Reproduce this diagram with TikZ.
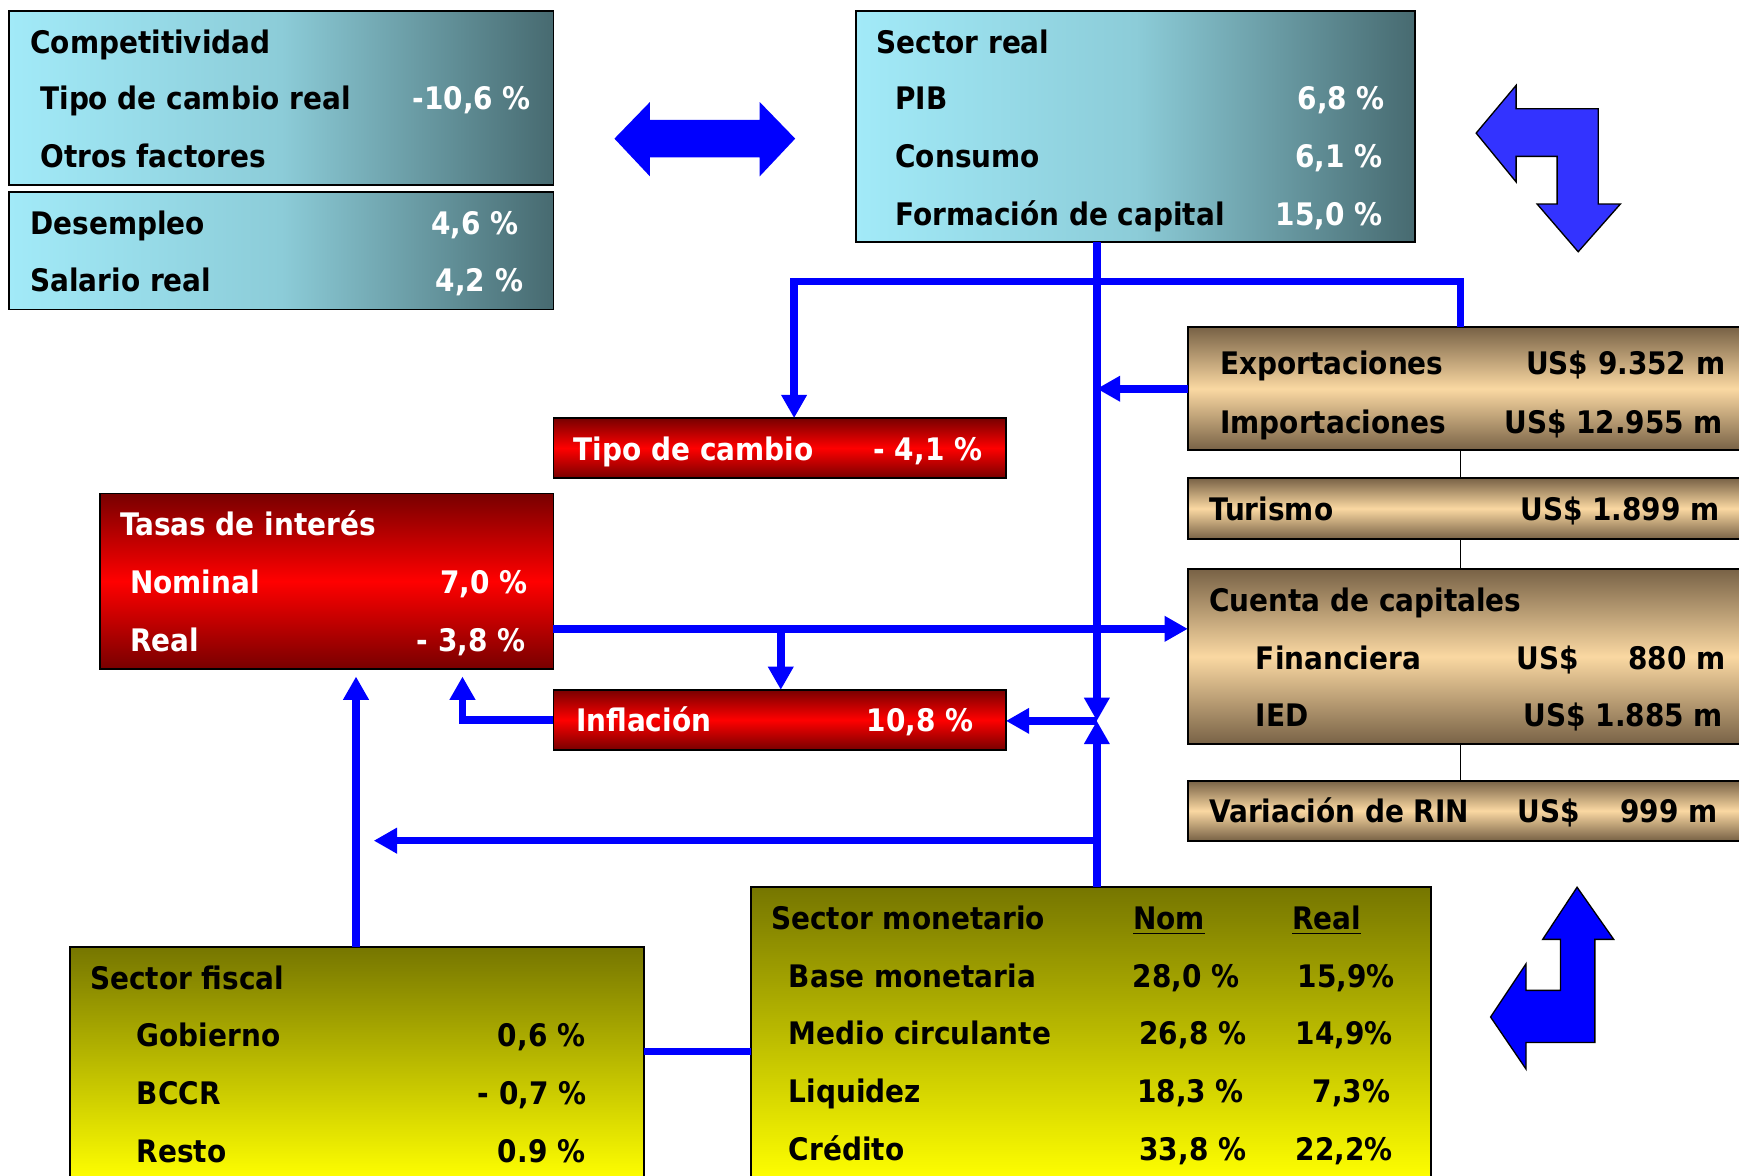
\documentclass[tikz,border=0pt]{standalone}
\usepackage{fontspec}
\setmainfont{DejaVu Sans Condensed}
\usetikzlibrary{arrows.meta}
\definecolor{cyanL}{HTML}{A2EAF8}
\definecolor{cyanM}{HTML}{8CCCD8}
\definecolor{slateD}{HTML}{476A70}
\definecolor{redD}{HTML}{780000}
\definecolor{redM}{HTML}{FF0000}
\definecolor{tanD}{HTML}{786246}
\definecolor{tanL}{HTML}{FAD8A2}
\definecolor{oliveD}{HTML}{767600}
\definecolor{yelL}{HTML}{FFFF00}
\definecolor{lineblue}{HTML}{0000FF}
\definecolor{arrblue}{HTML}{3333FF}
\newcounter{tn}
\newcommand\mkbox[6]{\node[box,#2,minimum width={(#5-#3)*0.5pt},minimum height={(#6-#4)*0.5pt}] (#1) at (#3,#4) {};}
\newcommand\lw[4][black]{\stepcounter{tn}\node[txt,anchor=base west,text=#1] (t\arabic{tn}) at (#2,#3) {#4};}
\newcommand\re[4][black]{\stepcounter{tn}\node[txt,anchor=base east,text=#1] (t\arabic{tn}) at (#2,#3) {#4};}
\newcommand\ce[4][black]{\stepcounter{tn}\node[txt,anchor=base,text=#1] (t\arabic{tn}) at (#2,#3) {#4};}
\begin{document}
\begin{tikzpicture}[x=0.5pt,y={(0pt,-0.5pt)},
  box/.style={draw=black,line width=0.8pt,inner sep=0pt,outer sep=0pt,anchor=north west},
  cyanbox/.style={left color=cyanL,right color=slateD,middle color=cyanM},
  redbox/.style={top color=redD,bottom color=redD,middle color=redM},
  tanbox/.style={top color=tanD,bottom color=tanD,middle color=tanL},
  olivebox/.style={top color=oliveD,bottom color=yelL},
  txt/.style={inner sep=0pt,font=\fontsize{14}{16}\selectfont\bfseries},
  conn/.style={draw=lineblue,line width=3.4pt},
  tip/.style={-{Triangle[width=11pt,length=10.5pt]}},
  thinl/.style={draw=black,line width=0.6pt},
  bigarrow/.style={fill=#1,draw=black,line width=0.6pt,line join=miter}]
\clip (0,0) rectangle (1568,1060);
\fill[white] (0,0) rectangle (1568,1060);

% boxes
\mkbox{comp}{cyanbox}{8}{10}{499}{167}
\mkbox{des}{cyanbox}{8}{173}{499}{279}
\mkbox{sr}{cyanbox}{772}{10}{1276}{218}
\mkbox{tc}{redbox}{499}{377}{907}{431}
\mkbox{ta}{redbox}{90}{445}{499}{603}
\mkbox{inf}{redbox}{499}{622}{907}{676}
\mkbox{ex}{tanbox}{1071}{295}{1600}{406}
\mkbox{tu}{tanbox}{1071}{431}{1600}{486}
\mkbox{cc}{tanbox}{1071}{513}{1600}{671}
\mkbox{rin}{tanbox}{1071}{704}{1600}{758}
\mkbox{mon}{olivebox}{677}{800}{1290}{1064}
\mkbox{fis}{olivebox}{63}{854}{581}{1064}

% connectors
\coordinate (J) at (989,650);
\coordinate (H1) at (716,254);
\coordinate (H2) at (1317,254);
\coordinate (R1) at (499,567);
\coordinate (R2) at (704,567);
\coordinate (L1) at (417,610);
\coordinate (B1) at (337,758);
\coordinate (F1) at (321,610);
\coordinate (M1) at (581,948);
\draw[conn,tip] (J |- sr.south) -- (J);
\draw[conn,tip] (H2 |- ex.north) -- (H2) -- (H1) -- (H1 |- tc.north);
\draw[conn,tip] (ex.west) -- (ex.west -| J);
\draw[conn,tip] (R1) -- (R1 -| cc.west);
\draw[conn,tip] (R2) -- (R2 |- inf.north);
\draw[conn,tip] (inf.west) -| (L1);
\draw[conn,tip] (J) -- (J -| inf.east);
\draw[conn,tip] (J |- mon.north) -- (J);
\draw[conn,tip] (J |- B1) -- (B1);
\draw[conn,tip] (F1 |- fis.north) -- (F1);
\draw[conn] (M1) -- (M1 -| mon.west);
\draw[thinl] (H2 |- ex.south) -- (H2 |- tu.north);
\draw[thinl] (H2 |- tu.south) -- (H2 |- cc.north);
\draw[thinl] (H2 |- cc.south) -- (H2 |- rin.north);

% big arrows
\fill[lineblue] (554,125) -- (586,92) -- (586,108) -- (685,108) -- (685,92) -- (717,125)
  -- (685,159) -- (685,142) -- (586,142) -- (586,159) -- cycle;
\draw[bigarrow=arrblue] (1331,120) -- (1367,77) -- (1367,98) -- (1441,98) -- (1441,184)
  -- (1461,184) -- (1423,227) -- (1386,184) -- (1404,184) -- (1404,141) -- (1367,141)
  -- (1367,164) -- cycle;
\draw[bigarrow=lineblue] (1422,800) -- (1455,847) -- (1438,847) -- (1438,940) -- (1376,940)
  -- (1376,964) -- (1344,917) -- (1376,869) -- (1376,893) -- (1407,893) -- (1407,847)
  -- (1391,847) -- cycle;

% texts: competitividad
\lw{27}{48}{Competitividad}
\lw{36}{99}{Tipo de cambio real}
\re[white]{479}{99}{-10,6 \%}
\lw{36}{151}{Otros factores}
\lw{27}{211}{Desempleo}
\re[white]{468}{211}{4,6 \%}
\lw{27}{263}{Salario real}
\re[white]{472}{263}{4,2 \%}
% sector real
\lw{790}{48}{Sector real}
\lw{807}{99}{PIB}
\re[white]{1249}{99}{6,8 \%}
\lw{807}{151}{Consumo}
\re[white]{1247}{151}{6,1 \%}
\lw{807}{203}{Formación de capital}
\re[white]{1247}{203}{15,0 \%}
% red boxes
\lw[white]{517}{415}{Tipo de cambio}
\re[white]{886}{415}{- 4,1 \%}
\lw[white]{108}{483}{Tasas de interés}
\lw[white]{117}{535}{Nominal}
\re[white]{476}{535}{7,0 \%}
\lw[white]{117}{587}{Real}
\re[white]{474}{587}{- 3,8 \%}
\lw[white]{519}{660}{Inflación}
\re[white]{878}{660}{10,8 \%}
% external sector
\lw{1100}{338}{Exportaciones}
\re{1556}{338}{US\$ 9.352 m}
\lw{1100}{391}{Importaciones}
\re{1554}{391}{US\$ 12.955 m}
\lw{1090}{469}{Turismo}
\re{1551}{469}{US\$ 1.899 m}
\lw{1090}{551}{Cuenta de capitales}
\lw{1132}{604}{Financiera}
\lw{1367}{604}{US\$}
\re{1556}{604}{880 m}
\lw{1132}{655}{IED}
\re{1554}{655}{US\$ 1.885 m}
\lw{1090}{742}{Variación de RIN}
\lw{1368}{742}{US\$}
\re{1549}{742}{999 m}
% monetario
\lw{695}{838}{Sector monetario}
\ce{1054}{838}{\underline{Nom}}
\ce{1196}{838}{\underline{Real}}
\lw{711}{890}{Base monetaria}
\re{1118}{890}{28,0 \%}
\re{1258}{890}{15,9\%}
\lw{711}{942}{Medio circulante}
\re{1124}{942}{26,8 \%}
\re{1256}{942}{14,9\%}
\lw{711}{994}{Liquidez}
\re{1122}{994}{18,3 \%}
\re{1254}{994}{7,3\%}
\lw{711}{1046}{Crédito}
\re{1124}{1046}{33,8 \%}
\re{1256}{1046}{22,2\%}
% fiscal
\lw{81}{892}{Sector fiscal}
\lw{123}{944}{Gobierno}
\re{528}{944}{0,6 \%}
\lw{123}{996}{BCCR}
\re{529}{996}{- 0,7 \%}
\lw{123}{1048}{Resto}
\re{528}{1048}{0.9 \%}
\end{tikzpicture}
\end{document}
